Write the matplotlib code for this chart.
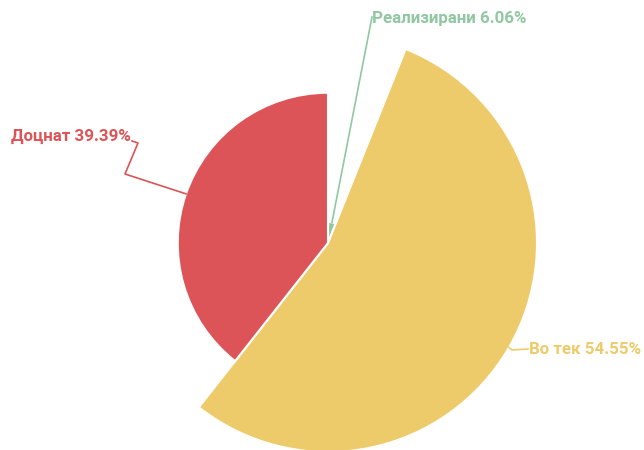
"""Rose (nightingale) pie of task status."""

import matplotlib
matplotlib.use("Agg")
import matplotlib.pyplot as plt
import numpy as np

labels = ["Реализирани", "Во тек", "Доцнат"]
counts = [2, 18, 13]
colors = ["#91c7a2", "#eecb6a", "#dc5457"]

W, H = 644, 450
CX, CY = 328, H - 243
R_MIN, R_MAX = 21, 209

# label layout: elbow points (screen px, y down) and text anchor
label_paths = [
    [(372, 17)],
    [(512, 350), (528, 349)],
    [(125, 174), (138, 143), (132, 141)],
]
label_text = [((372, 18), "left"), ((529, 350), "left"), ((131, 136), "right")]

plt.rcParams["font.family"] = ["Roboto", "DejaVu Sans"]

fig = plt.figure(figsize=(W / 100, H / 100), dpi=100)
ax = fig.add_axes([0, 0, 1, 1])

wedges, _ = ax.pie(
    counts,
    colors=colors,
    startangle=90,
    counterclock=False,
    center=(CX, CY),
    radius=R_MAX,
    wedgeprops={"edgecolor": "white", "linewidth": 1.5},
)

vmin, vmax = min(counts), max(counts)
total = sum(counts)
for w, v in zip(wedges, counts):
    r = R_MIN + (v - vmin) / (vmax - vmin) * (R_MAX - R_MIN)
    w.set_radius(r)

for w, v, lab, c, path, (pos, ha) in zip(wedges, counts, labels, colors, label_paths, label_text):
    mid = np.deg2rad((w.theta1 + w.theta2) / 2)
    sx = CX + w.r * np.cos(mid)
    sy = CY + w.r * np.sin(mid)
    xs = [sx] + [p[0] for p in path]
    ys = [sy] + [H - p[1] for p in path]
    ax.plot(xs, ys, color=c, lw=1.2)
    ax.text(pos[0], H - pos[1], f"{lab} {v / total * 100:.2f}%", color=c,
            ha=ha, va="center", fontsize=12.2, fontweight="bold")

ax.set_xlim(0, W)
ax.set_ylim(0, H)
ax.set_aspect("auto")
ax.axis("off")

fig.savefig("out.png", dpi=100)
